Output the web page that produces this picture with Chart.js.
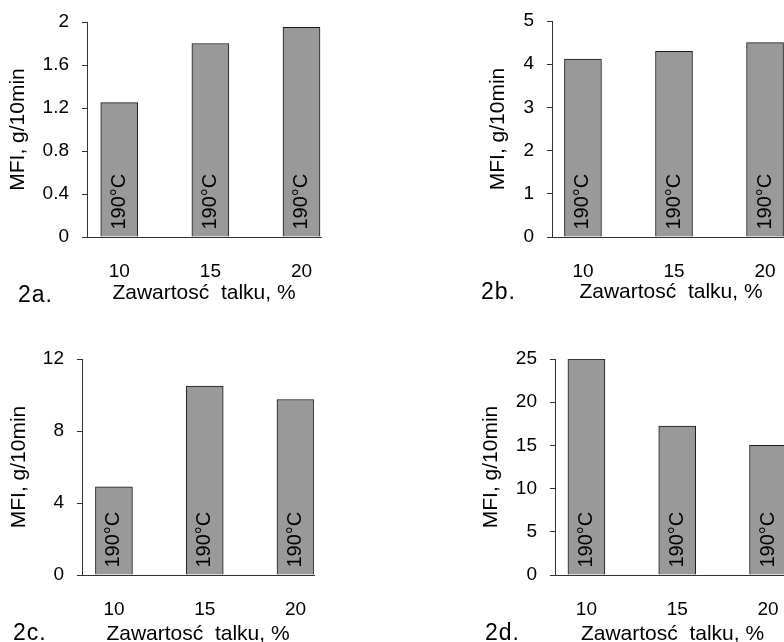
<!DOCTYPE html>
<html>
<head>
<meta charset="utf-8">
<script src="https://cdn.jsdelivr.net/npm/chart.js@4"></script>
<style>
  html, body { margin: 0; padding: 0; background: #fff; }
  body { width: 784px; height: 642px; position: relative; overflow: hidden; }
  canvas { position: absolute; left: 0; top: 0; }
  .tag { position: absolute; font: 23px "Liberation Sans", Arial, sans-serif; line-height: 23px; color: #000; letter-spacing: 1px; }
</style>
</head>
<body>
<canvas id="c2a" width="820" height="642"></canvas>
<canvas id="c2b" width="820" height="642"></canvas>
<canvas id="c2c" width="820" height="642"></canvas>
<canvas id="c2d" width="820" height="642"></canvas>
<div class="tag" style="left:18px;top:283px">2a.</div>
<div class="tag" style="left:481px;top:280px">2b.</div>
<div class="tag" style="left:13px;top:621px">2c.</div>
<div class="tag" style="left:485px;top:621px">2d.</div>
<script>
// talc content, %
const talc = [10, 15, 20];
const tempLabels = ["190°C", "190°C", "190°C"];

// MFI, g/10min
const mfiA = [1.25, 1.8, 1.95];
const mfiB = [4.12, 4.3, 4.5];
const mfiC = [4.9, 10.5, 9.75];
const mfiD = [25, 17.25, 15];

const ticksA = [0, 0.4, 0.8, 1.2, 1.6, 2];
const ticksB = [0, 1, 2, 3, 4, 5];
const ticksC = [0, 4, 8, 12];
const ticksD = [0, 5, 10, 15, 20, 25];

const xTitle = "Zawartosć  talku, %";
const yTitle = "MFI, g/10min";

const W = 820, H = 642;
Chart.defaults.font.family = '"Liberation Sans", Arial, sans-serif';
Chart.defaults.color = "#000";

// writes the temperature inside each bar, rotated
const barText = {
  id: "barText",
  afterDatasetsDraw(chart) {
    const ctx = chart.ctx;
    const meta = chart.getDatasetMeta(0);
    ctx.save();
    ctx.font = '20px "Liberation Sans", Arial, sans-serif';
    ctx.fillStyle = "#000";
    ctx.textAlign = "left";
    ctx.textBaseline = "middle";
    meta.data.forEach((bar, i) => {
      ctx.save();
      ctx.translate(bar.x, bar.base - 7);
      ctx.rotate(-Math.PI / 2);
      ctx.fillText(tempLabels[i], 0, 0);
      ctx.restore();
    });
    ctx.restore();
  }
};

function makePanel(id, values, yTicks, p) {
  new Chart(document.getElementById(id), {
    type: "bar",
    data: {
      datasets: [{
        data: talc.map((t, i) => ({ x: t, y: values[i] })),
        backgroundColor: "#999999",
        borderColor: "#1a1a1a",
        borderWidth: 1,
        barThickness: 37
      }]
    },
    options: {
      responsive: false,
      animation: false,
      events: [],
      layout: {
        padding: { left: p.yTitleX - 12.6, top: p.top, right: W - p.right, bottom: H - (p.xTitleY + 12.6) }
      },
      plugins: { legend: { display: false }, tooltip: { enabled: false } },
      scales: {
        x: {
          type: "linear",
          min: p.xMin,
          max: p.xMax,
          offset: false,
          grid: { display: false, drawTicks: false, tickLength: 0, offset: false },
          border: { display: true, color: "#333", width: 1 },
          ticks: { padding: 23, maxRotation: 0, autoSkip: false, font: { size: 19 }, callback: v => String(v) },
          afterBuildTicks: s => { s.ticks = talc.map(v => ({ value: v })); },
          title: { display: true, text: xTitle, font: { size: 21 }, padding: 0 },
          afterFit: s => {
            s.height = (p.xTitleY + 12.6) - p.bottom;
            s.paddingLeft = 0;
            s.paddingRight = 0;
          }
        },
        y: {
          min: 0,
          max: yTicks[yTicks.length - 1],
          grid: { drawOnChartArea: false, drawTicks: true, tickLength: 5, color: "#333" },
          border: { display: true, color: "#333", width: 1 },
          ticks: { padding: 13, font: { size: 19 }, callback: v => String(v) },
          afterBuildTicks: s => { s.ticks = yTicks.map(v => ({ value: v })); },
          title: { display: true, text: yTitle, font: { size: 21 }, padding: 0 },
          afterFit: s => {
            s.width = p.left - (p.yTitleX - 12.6);
            s.paddingTop = 0;
            s.paddingBottom = 0;
          }
        }
      }
    },
    plugins: [barText]
  });
}

makePanel("c2a", mfiA, ticksA, { left: 87, right: 321, top: 22, bottom: 237, xMin: 8.23, xMax: 21.07, yTitleX: 18, xTitleY: 293 });
makePanel("c2b", mfiB, ticksB, { left: 552, right: 790, top: 21, bottom: 237, xMin: 8.3, xMax: 21.37, yTitleX: 498, xTitleY: 292 });
makePanel("c2c", mfiC, ticksC, { left: 82, right: 314, top: 359, bottom: 575, xMin: 8.24, xMax: 21.02, yTitleX: 19, xTitleY: 634 });
makePanel("c2d", mfiD, ticksD, { left: 555, right: 790, top: 359, bottom: 575, xMin: 8.27, xMax: 21.21, yTitleX: 491, xTitleY: 634 });
</script>
</body>
</html>
